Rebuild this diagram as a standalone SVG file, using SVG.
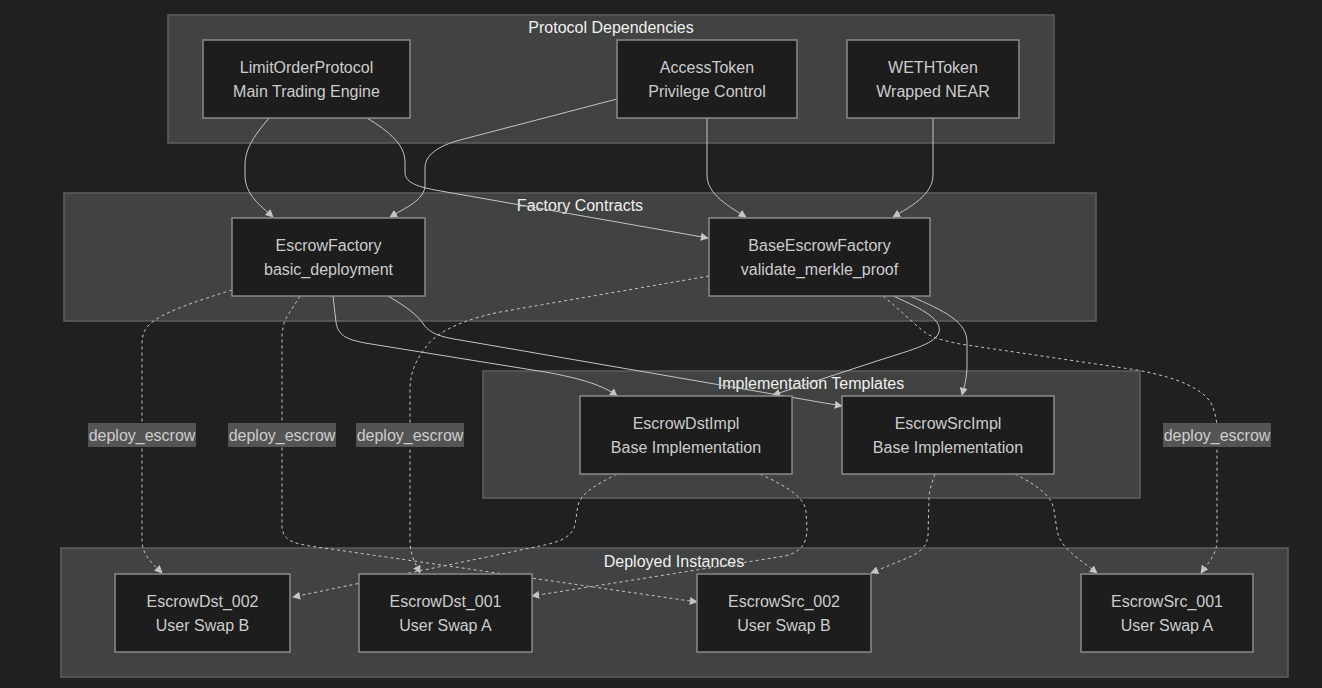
<svg xmlns="http://www.w3.org/2000/svg" width="1322" height="688" viewBox="0 0 1322 688">
  <defs>
    <style>
      .bg { fill: #202020; }
      .cluster rect { fill: #414342; stroke: #5e5e5e; stroke-width: 1.5; }
      .cluster text { fill: #f0f0f0; font-family: "Liberation Sans", Arial, sans-serif; font-size: 16px; text-anchor: middle; dominant-baseline: central; }
      .node rect { fill: #1d1d1d; stroke: #8a8a8a; stroke-width: 1.5; }
      .node text { fill: #cccccc; font-family: "Liberation Sans", Arial, sans-serif; font-size: 16px; text-anchor: middle; dominant-baseline: central; }
      .edge { fill: none; stroke: #c4c4c4; stroke-width: 1; marker-end: url(#arrow); }
      .dotted { stroke-dasharray: 3 3; }
      .elabel rect { fill: #545454; }
      .elabel text { fill: #cccccc; font-family: "Liberation Sans", Arial, sans-serif; font-size: 16px; text-anchor: middle; dominant-baseline: central; }
    </style>
    <marker id="arrow" viewBox="0 0 10 10" refX="9" refY="5" markerWidth="8" markerHeight="8" markerUnits="userSpaceOnUse" orient="auto">
      <path d="M0,0 L10,5 L0,10 z" fill="#c4c4c4"/>
    </marker>
  </defs>

  <rect class="bg" x="0" y="0" width="1322" height="688"/>

  <!-- subgraphs -->
  <g id="clusters">
    <g id="cluster-protocol" class="cluster">
      <rect x="168" y="15" width="886" height="128"/>
      <text x="611" y="27">Protocol Dependencies</text>
    </g>
    <g id="cluster-factory" class="cluster">
      <rect x="64" y="193" width="1032" height="128"/>
      <text x="580" y="205">Factory Contracts</text>
    </g>
    <g id="cluster-impl" class="cluster">
      <rect x="483" y="371" width="657" height="127"/>
      <text x="811" y="383">Implementation Templates</text>
    </g>
    <g id="cluster-deployed" class="cluster">
      <rect x="61" y="548" width="1227" height="129"/>
      <text x="674" y="561">Deployed Instances</text>
    </g>
  </g>

  <!-- connectors -->
  <g id="edges">
    <path class="edge" d="M 269 118 C 255 135, 245 148, 245 165 L 245 175 C 245 195, 260 205, 273 217"/>
    <path class="edge" d="M 367 118 C 390 132, 405 145, 405 162 L 405 172 C 405 182, 415 186, 435 190 L 708 238"/>
    <path class="edge" d="M 617 99 L 460 140 C 438 146, 425 155, 425 168 L 425 185 C 425 200, 405 208, 390 217"/>
    <path class="edge" d="M 707 118 L 707 175 C 707 195, 730 207, 746 217"/>
    <path class="edge" d="M 933 118 L 933 175 C 933 195, 910 207, 893 217"/>
    <path class="edge" d="M 333 296 L 336 322 C 338 335, 345 339, 365 343 L 545 372 C 580 378, 605 386, 617 396"/>
    <path class="edge" d="M 388 296 C 405 306, 418 315, 424 325 C 430 333, 440 337, 460 340 L 842 406"/>
    <path class="edge" d="M 893 296 C 925 310, 942 320, 939 332 C 936 343, 915 349, 880 360 L 773 395"/>
    <path class="edge" d="M 910 296 C 945 311, 967 322, 967 342 L 967 365 C 967 380, 964 387, 962 395"/>

    <path class="edge dotted" d="M 232 290 C 200 300, 170 310, 155 320 C 145 327, 142 333, 142 345 L 142 540 C 142 555, 152 563, 162 573"/>
    <path class="edge dotted" d="M 300 296 C 292 310, 284 318, 283 328 L 282 335 L 282 525 C 282 540, 292 543, 310 546 L 697 602"/>
    <path class="edge dotted" d="M 709 276 L 500 312 C 470 318, 445 328, 432 340 C 418 355, 410 370, 410 390 L 410 540 C 410 555, 415 563, 420 573"/>
    <path class="edge dotted" d="M 883 296 C 900 310, 912 322, 922 330 C 930 337, 940 340, 960 344 L 1137 370 C 1180 378, 1205 390, 1212 405 C 1216 415, 1217 422, 1217 430 L 1217 540 C 1217 555, 1208 563, 1201 573"/>
    <path class="edge dotted" d="M 617 474 C 598 484, 582 492, 578 505 L 575 525 C 572 537, 560 542, 540 546 L 293 597"/>
    <path class="edge dotted" d="M 760 474 C 790 488, 805 498, 806 512 L 807 528 C 807 545, 800 552, 785 556 L 532 596"/>
    <path class="edge dotted" d="M 935 474 C 931 485, 929 492, 929 500 L 928 535 C 927 550, 915 555, 900 561 L 871 573"/>
    <path class="edge dotted" d="M 1015 474 C 1040 487, 1052 497, 1054 510 L 1057 530 C 1060 548, 1078 558, 1097 573"/>
  </g>

  <!-- connector labels -->
  <g id="edge-labels">
    <g class="elabel"><rect x="88" y="423" width="108" height="24"/><text x="142" y="435">deploy_escrow</text></g>
    <g class="elabel"><rect x="228" y="423" width="108" height="24"/><text x="282" y="435">deploy_escrow</text></g>
    <g class="elabel"><rect x="356" y="423" width="108" height="24"/><text x="410" y="435">deploy_escrow</text></g>
    <g class="elabel"><rect x="1163" y="423" width="108" height="24"/><text x="1217" y="435">deploy_escrow</text></g>
  </g>

  <!-- nodes -->
  <g id="LimitOrderProtocol" class="node">
    <rect x="203" y="40" width="207" height="78"/>
    <text x="306.5" y="67">LimitOrderProtocol</text>
    <text x="306.5" y="91">Main Trading Engine</text>
  </g>
  <g id="AccessToken" class="node">
    <rect x="617" y="40" width="180" height="78"/>
    <text x="707" y="67">AccessToken</text>
    <text x="707" y="91">Privilege Control</text>
  </g>
  <g id="WETHToken" class="node">
    <rect x="847" y="40" width="172" height="78"/>
    <text x="933" y="67">WETHToken</text>
    <text x="933" y="91">Wrapped NEAR</text>
  </g>
  <g id="EscrowFactory" class="node">
    <rect x="232" y="218" width="193" height="78"/>
    <text x="328.5" y="245">EscrowFactory</text>
    <text x="328.5" y="269">basic_deployment</text>
  </g>
  <g id="BaseEscrowFactory" class="node">
    <rect x="709" y="218" width="221" height="78"/>
    <text x="819.5" y="245">BaseEscrowFactory</text>
    <text x="819.5" y="269">validate_merkle_proof</text>
  </g>
  <g id="EscrowDstImpl" class="node">
    <rect x="580" y="396" width="212" height="78"/>
    <text x="686" y="423">EscrowDstImpl</text>
    <text x="686" y="447">Base Implementation</text>
  </g>
  <g id="EscrowSrcImpl" class="node">
    <rect x="842" y="396" width="212" height="78"/>
    <text x="948" y="423">EscrowSrcImpl</text>
    <text x="948" y="447">Base Implementation</text>
  </g>
  <g id="EscrowDst_002" class="node">
    <rect x="115" y="574" width="175" height="78"/>
    <text x="202.5" y="601">EscrowDst_002</text>
    <text x="202.5" y="625">User Swap B</text>
  </g>
  <g id="EscrowDst_001" class="node">
    <rect x="359" y="574" width="173" height="78"/>
    <text x="445.5" y="601">EscrowDst_001</text>
    <text x="445.5" y="625">User Swap A</text>
  </g>
  <g id="EscrowSrc_002" class="node">
    <rect x="697" y="574" width="174" height="78"/>
    <text x="784" y="601">EscrowSrc_002</text>
    <text x="784" y="625">User Swap B</text>
  </g>
  <g id="EscrowSrc_001" class="node">
    <rect x="1081" y="574" width="172" height="78"/>
    <text x="1167" y="601">EscrowSrc_001</text>
    <text x="1167" y="625">User Swap A</text>
  </g>
</svg>
